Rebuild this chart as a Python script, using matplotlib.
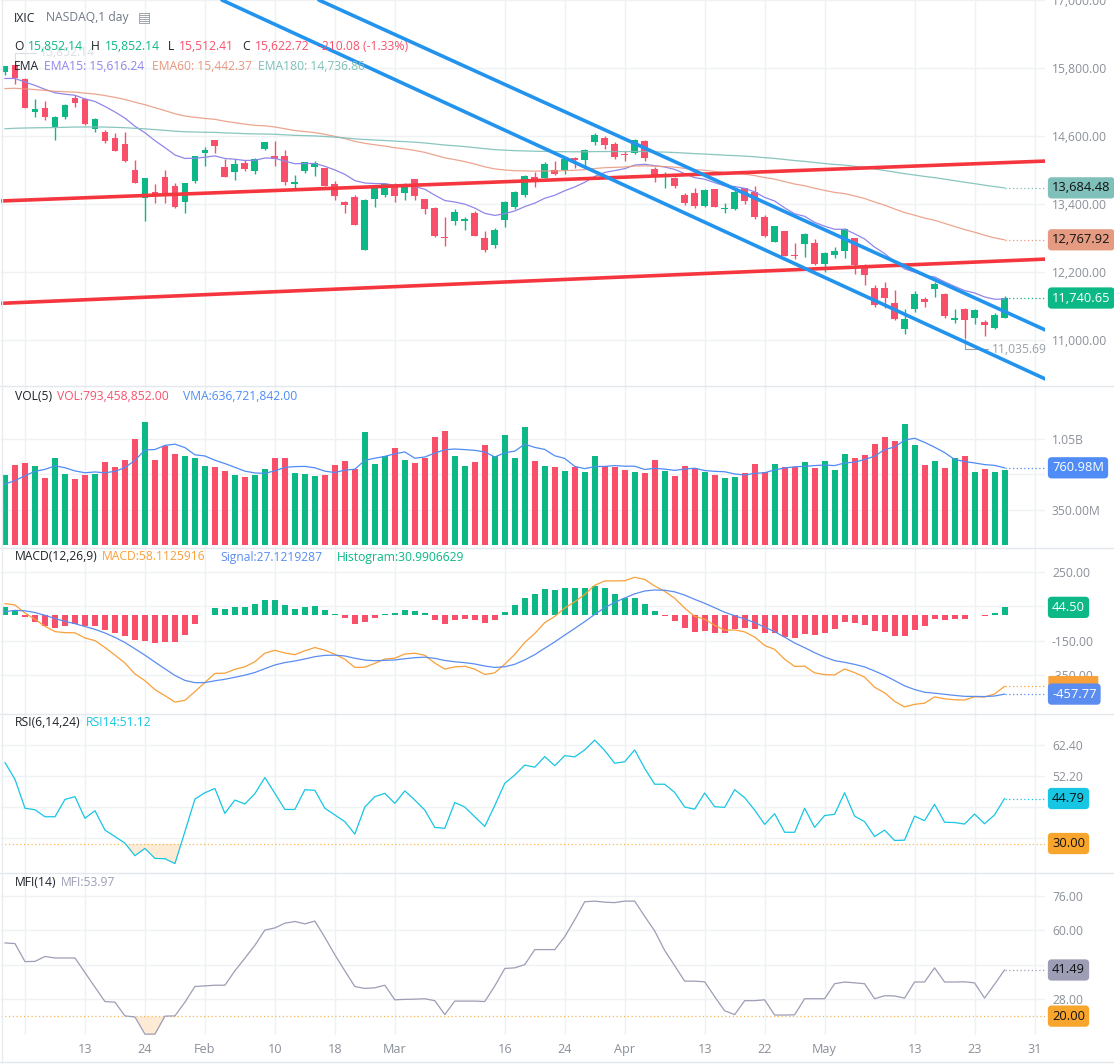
import numpy as np
import matplotlib.pyplot as plt
from matplotlib.lines import Line2D
from matplotlib.patches import FancyBboxPatch
from matplotlib.transforms import blended_transform_factory, ScaledTranslation

plt.rcParams['font.family'] = ['Open Sans', 'DejaVu Sans']

# ---- daily candles, IXIC 2022-01-03 .. 2022-05-26 (index 0..100) ----
opens = [15732.5, 15852.14, 15614, 15024, 15097, 14765, 14934, 15264, 15245, 14725,
         14671, 14564, 14459, 14004, 13499, 13610, 13871, 13710, 13436, 13812,
         14303, 14528, 14058, 13960, 14129, 13988, 14365, 14242, 14247, 13753,
         13977, 14048, 14030, 13747, 13441, 13529, 12588, 13483, 13566, 13717,
         13600, 13835, 13483, 13335, 12811, 13106, 13100, 13235, 12795, 12676,
         13118, 13353, 13559, 13882, 13853, 14000, 14000, 14206, 14176, 14500,
         14559, 14459, 14290, 14306, 14512, 14018, 13880, 13853, 13559, 13588,
         13365, 13659, 13319, 13312, 13676, 13618, 13165, 12735, 12924, 12494,
         12694, 12717, 12335, 12500, 12576, 12806, 12265, 11923, 11912, 11659,
         11188, 11547, 11718, 11894, 11806, 11353, 11541, 11382, 11323, 11217,
         11394]
highs = [15833, 15852.14, 15620, 15246, 15209, 14950, 15165, 15319, 15271, 14910,
         14705, 14651, 14674, 14174, 13858, 13760, 14003, 13765, 13771, 14242,
         14400, 14528, 14190, 14195, 14181, 14217, 14497, 14503, 14346, 13914,
         14140, 14158, 14034, 13806, 13458, 13560, 13483, 13698, 13765, 13776,
         13779, 13839, 13494, 13340, 13176, 13312, 13165, 13283, 12924, 12971,
         13458, 13629, 13912, 13965, 14144, 14159, 14217, 14226, 14370, 14646,
         14600, 14494, 14340, 14548, 14537, 14047, 13965, 13870, 13590, 13683,
         13663, 13670, 13421, 13655, 13687, 13710, 13205, 13012, 12924, 12709,
         12890, 12778, 12544, 12637, 12982, 12806, 12341, 11977, 12023, 11878,
         11547, 11856, 11760, 12029, 11829, 11541, 11565, 11543, 11360, 11484,
         11782]
lows = [15678, 15512.41, 15096, 14933, 14877, 14530, 14905, 15118, 14795, 14672,
        14474, 14332, 14141, 13767, 13094, 13424, 13416, 13322, 13236, 13777,
        14073, 14307, 13870, 13824, 13979, 13925, 14347, 14077, 13728, 13664,
        13954, 13889, 13713, 13462, 13247, 13027, 12587, 13352, 13528, 13441,
        13468, 13472, 13229, 12823, 12659, 13029, 12941, 12836, 12555, 12618,
        12989, 13312, 13521, 13694, 13853, 13912, 13937, 14042, 14072, 14437,
        14362, 14200, 14152, 14274, 14167, 13794, 13688, 13690, 13390, 13337,
        13340, 13347, 13246, 13296, 13396, 13136, 12820, 12725, 12482, 12431,
        12461, 12316, 12202, 12450, 12451, 12165, 11970, 11574, 11560, 11351,
        11100, 11487, 11580, 11753, 11390, 11291, 11035.69, 11285, 11068, 11198,
        11390]
closes = [15832.80, 15622.72, 15100.17, 15080.86, 14935.90, 14942.83, 15153.45, 15188.39, 14806.81, 14893.75,
          14506.90, 14340.26, 14154.02, 13768.92, 13855.13, 13539.29, 13542.12, 13352.78, 13770.57, 14239.88,
          14346.00, 14417.55, 13878.82, 14098.01, 14015.67, 14194.46, 14490.37, 14185.64, 13791.15, 13790.92,
          14139.76, 14124.09, 13716.72, 13548.07, 13381.52, 13037.49, 13473.59, 13694.62, 13751.40, 13532.46,
          13752.02, 13537.94, 13313.44, 12830.96, 12795.55, 13255.55, 13129.96, 12843.81, 12581.22, 12948.62,
          13436.55, 13614.78, 13893.84, 13838.46, 14108.82, 13922.60, 14191.84, 14169.30, 14354.90, 14619.64,
          14442.28, 14220.52, 14261.50, 14532.55, 14204.17, 13888.82, 13897.30, 13711.00, 13411.96, 13371.57,
          13643.59, 13351.08, 13332.36, 13619.66, 13453.07, 13174.65, 12839.29, 13004.85, 12490.74, 12488.93,
          12871.53, 12334.64, 12536.02, 12563.76, 12964.86, 12317.69, 12144.66, 11623.25, 11737.67, 11364.24,
          11370.96, 11805.00, 11662.79, 11984.52, 11418.15, 11388.50, 11354.62, 11535.27, 11264.45, 11434.74,
          11740.65]

ema15 = [15615, 15616.2, 15551.7, 15492.8, 15423.2, 15363.2, 15337.0, 15318.4, 15254.5, 15209.4,
         15121.6, 15023.9, 14915.2, 14771.9, 14657.3, 14517.5, 14395.6, 14265.2, 14203.4, 14208.0,
         14225.3, 14249.3, 14203.0, 14189.9, 14168.1, 14171.4, 14211.3, 14208.1, 14156.0, 14110.4,
         14114.1, 14115.3, 14065.5, 14000.8, 13923.4, 13812.7, 13770.3, 13760.8, 13759.6, 13731.2,
         13733.8, 13709.3, 13659.8, 13556.2, 13461.1, 13435.4, 13397.2, 13328.0, 13234.6, 13198.8,
         13228.5, 13276.8, 13353.9, 13414.5, 13501.3, 13554.0, 13633.7, 13700.7, 13782.5, 13887.1,
         13956.5, 13989.5, 14023.5, 14087.1, 14101.7, 14075.1, 14052.9, 14010.2, 13935.4, 13864.9,
         13837.2, 13776.4, 13720.9, 13708.2, 13676.3, 13613.6, 13516.8, 13452.8, 13332.5, 13227.0,
         13182.6, 13076.6, 13009.0, 12953.3, 12954.7, 12875.1, 12783.8, 12638.7, 12526.1, 12380.9,
         12254.7, 12198.5, 12131.5, 12113.1, 12026.2, 11946.5, 11872.5, 11830.3, 11759.6, 11719.0,
         11721.7]
ema60 = [15436.3, 15442.4, 15431.2, 15419.7, 15403.8, 15388.7, 15381.0, 15374.7, 15356.1, 15340.9,
         15313.6, 15281.7, 15244.7, 15196.3, 15152.3, 15099.4, 15048.3, 14992.7, 14952.6, 14929.2,
         14910.1, 14893.9, 14860.6, 14835.6, 14808.7, 14788.6, 14778.8, 14759.3, 14727.5, 14696.8,
         14678.5, 14660.3, 14629.4, 14593.9, 14554.1, 14504.4, 14470.6, 14445.2, 14422.4, 14393.2,
         14372.2, 14344.8, 14311.0, 14262.5, 14214.4, 14183.0, 14148.5, 14105.7, 14055.7, 14019.4,
         14000.3, 13987.7, 13984.6, 13979.8, 13984.0, 13982.0, 13988.9, 13994.8, 14006.6, 14026.7,
         14040.3, 14046.2, 14053.3, 14069.0, 14073.4, 14067.3, 14061.7, 14050.2, 14029.3, 14007.7,
         13995.8, 13974.7, 13953.6, 13942.7, 13926.6, 13901.9, 13867.1, 13838.8, 13794.6, 13751.8,
         13722.9, 13677.4, 13640.0, 13604.7, 13583.7, 13542.2, 13496.4, 13435.0, 13379.3, 13313.2,
         13249.5, 13202.1, 13151.6, 13113.3, 13057.7, 13003.0, 12948.9, 12902.5, 12848.8, 12802.4,
         12767.9]
ema180 = [14727.0, 14736.9, 14740.9, 14744.7, 14746.8, 14749.0, 14753.5, 14758.3, 14758.8, 14760.3,
          14757.5, 14752.9, 14746.3, 14735.5, 14725.8, 14712.7, 14699.8, 14684.9, 14674.8, 14670.0,
          14666.4, 14663.6, 14654.9, 14648.7, 14641.7, 14636.8, 14635.2, 14630.2, 14620.9, 14611.7,
          14606.5, 14601.2, 14591.4, 14579.9, 14566.7, 14549.8, 14537.9, 14528.6, 14520.0, 14509.1,
          14500.7, 14490.1, 14477.1, 14458.9, 14440.5, 14427.4, 14413.1, 14395.8, 14375.7, 14359.9,
          14349.7, 14341.6, 14336.7, 14331.2, 14328.7, 14324.2, 14322.7, 14321.0, 14321.4, 14324.7,
          14326.0, 14324.8, 14324.1, 14326.4, 14325.0, 14320.2, 14315.5, 14308.8, 14298.9, 14288.7,
          14281.6, 14271.3, 14260.9, 14253.8, 14245.0, 14233.2, 14217.8, 14204.4, 14185.5, 14166.8,
          14152.5, 14132.4, 14114.8, 14097.7, 14085.2, 14065.7, 14044.5, 14017.7, 13992.5, 13963.5,
          13934.9, 13911.4, 13886.6, 13865.6, 13838.6, 13811.5, 13784.4, 13759.5, 13731.9, 13706.5,
          13684.5]

# volume in millions
vol_m = [693, 792, 812, 782, 666, 861, 703, 653, 693, 703,
         822, 772, 842, 1049, 1218, 842, 980, 901, 881, 861,
         782, 772, 736, 693, 673, 693, 752, 861, 861, 713,
         703, 683, 693, 792, 832, 752, 1119, 802, 881, 960,
         842, 812, 861, 1069, 1129, 881, 782, 822, 990, 881,
         1089, 861, 1168, 832, 782, 772, 733, 772, 723, 881,
         782, 772, 743, 723, 713, 842, 733, 683, 782, 762,
         723, 693, 663, 673, 713, 802, 723, 802, 772, 772,
         822, 762, 832, 743, 901, 861, 891, 1000, 1069, 1030,
         1198, 990, 792, 832, 762, 861, 881, 723, 752, 723,
         743]
vma_m = [604, 637, 686, 729, 749, 783, 765, 733, 715, 723,
         715, 729, 766, 838, 941, 945, 986, 998, 964, 893,
         881, 839, 806, 769, 731, 713, 709, 734, 768, 776,
         778, 764, 731, 717, 741, 750, 838, 859, 877, 903,
         921, 859, 871, 909, 943, 950, 944, 937, 921, 871,
         913, 929, 998, 966, 946, 883, 857, 778, 756, 776,
         778, 786, 780, 780, 747, 759, 751, 739, 751, 760,
         737, 729, 725, 703, 693, 709, 715, 743, 762, 774,
         778, 786, 792, 786, 812, 820, 846, 879, 944, 970,
         1038, 1057, 1016, 968, 915, 847, 826, 812, 796, 788,
         764]

macd = [66, 58.1, 12.4, -25, -65.5, -96, -102, -103, -133, -148,
        -188, -232, -278, -341, -380, -432, -467, -504, -494, -443.5,
        -390.2, -338.3, -336.8, -314.3, -299.6, -270.5, -221, -204, -219.8, -229.7,
        -207, -188.2, -203.8, -227.1, -256.1, -303.3, -302, -279.9, -254.9, -249.9,
        -225.6, -221.1, -232.9, -278, -313, -300.2, -296.7, -313.5, -344, -334.6,
        -284.5, -227.8, -158.6, -106.9, -43.7, -8.5, 40.7, 76.9, 119.2, 172.1,
        197.5, 197.5, 198.5, 218.6, 205.7, 168.1, 137.4, 96.9, 40.2, -7.9,
        -23.8, -59.3, -87.9, -86.4, -97.5, -127.4, -176.1, -199.1, -255.8, -297.5,
        -296.2, -334.7, -345, -346.9, -312.4, -333.4, -359.9, -418.2, -450, -499.5,
        -532.1, -517, -510.5, -474, -485.1, -490.7, -492.2, -473.3, -474.8, -457,
        -413.4]
signal = [19.4, 27.1, 24.2, 14.4, -1.6, -20.5, -36.8, -50.0, -66.6, -82.9,
          -103.9, -129.5, -159.2, -195.6, -232.5, -272.4, -311.3, -349.8, -378.6, -391.6,
          -391.3, -380.7, -371.9, -360.4, -348.2, -332.7, -310.4, -289.1, -275.2, -266.1,
          -254.3, -241.1, -233.6, -232.3, -237.1, -250.3, -260.6, -264.5, -262.6, -260.1,
          -253.2, -246.8, -244.0, -250.8, -263.2, -270.6, -275.8, -283.3, -295.4, -303.2,
          -299.5, -285.2, -259.9, -229.3, -192.2, -155.5, -116.3, -77.7, -38.3, 3.8,
          42.5, 73.5, 98.5, 122.5, 139.1, 144.9, 143.4, 134.1, 115.3, 90.7,
          67.8, 42.4, 16.3, -4.2, -22.9, -43.8, -70.3, -96.1, -128.0, -161.9,
          -188.8, -218.0, -243.4, -264.1, -273.8, -285.7, -300.5, -324.0, -349.2, -379.3,
          -409.9, -431.3, -447.1, -452.5, -459.0, -465.3, -470.7, -471.2, -471.9, -468.9,
          -457.8]

rsi14 = [56.6, 51.1, 41.6, 41.1, 38.8, 38.8, 44.5, 45.4, 38.3, 40.8,
         34.4, 32.3, 30.1, 26.0, 28.4, 25.1, 25.0, 23.4, 33.9, 44.6,
         46.7, 48.1, 39.9, 44.3, 43.0, 46.4, 51.7, 46.5, 41.2, 41.2,
         47.7, 47.5, 41.6, 39.4, 37.2, 33.1, 42.0, 45.4, 46.5, 43.2,
         47.3, 44.3, 41.0, 35.3, 35.0, 43.5, 42.0, 38.8, 35.6, 42.5,
         49.8, 52.5, 55.8, 55.1, 58.6, 55.6, 58.9, 58.5, 60.8, 64.0,
         60.6, 56.4, 56.9, 60.8, 54.7, 49.5, 49.5, 46.8, 42.0, 41.3,
         46.6, 42.1, 41.9, 47.7, 45.1, 41.0, 36.3, 39.8, 33.7, 33.7,
         41.6, 35.3, 39.2, 39.6, 46.7, 39.0, 37.2, 32.3, 34.4, 31.0,
         31.1, 39.0, 37.5, 42.9, 37.0, 36.9, 36.4, 39.7, 36.5, 39.4,
         44.8]
mfi14 = [54.1, 53.8, 45.4, 45.5, 47.8, 47.1, 47.1, 47.1, 40.3, 33.5,
         26.8, 26.5, 20.1, 19.6, 11.6, 11.6, 20.0, 20.1, 26.5, 33.8,
         34.1, 34.4, 34.4, 41.1, 47.0, 53.0, 60.1, 61.1, 63.3, 64.1,
         63.0, 64.3, 56.7, 48.6, 41.1, 33.8, 32.9, 33.2, 34.4, 27.6,
         27.8, 27.9, 28.1, 27.2, 20.7, 27.0, 27.0, 27.0, 26.8, 34.0,
         42.2, 42.5, 44.0, 51.0, 51.0, 51.0, 57.0, 64.9, 73.3, 73.6,
         73.1, 72.9, 73.6, 73.6, 66.5, 59.7, 50.6, 43.5, 36.3, 36.3,
         36.0, 29.1, 22.5, 20.7, 27.2, 27.2, 27.6, 20.5, 20.5, 20.6,
         28.1, 28.1, 28.1, 35.1, 35.9, 35.5, 35.1, 28.1, 29.5, 29.4,
         28.4, 35.9, 35.9, 42.5, 35.9, 35.9, 36.0, 35.5, 28.4, 34.8,
         41.5]

# x axis: candle index of each date tick
tick_pos = [2, 8, 14, 20, 27, 33, 39, 50, 56, 62, 70, 76, 82, 91, 97, 103]
tick_labels = ['', '13', '24', 'Feb', '10', '18', 'Mar', '16', '24', 'Apr', '13', '22', 'May', '13', '23', '31']

# hand-drawn trend lines (candle index, price)
trend_x = [[-0.4, 104.3], [-0.4, 104.3], [21.7, 104.3], [31.4, 104.3]]
trend_y = [[13453, 14159], [11647, 12429], [17000, 10294], [17000, 11159]]
trend_colors = ['#f5363f', '#f5363f', '#2394ee', '#2394ee']

GREEN = '#0cb885'
RED = '#f8506b'
GRID = '#eff1f4'
AXTXT = '#8a9099'
C_EMA15, C_EMA60, C_EMA180 = '#8f86ea', '#e8967c', '#7dbfb8'
C_VMA = '#4f8cf6'
C_MACD, C_SIG = '#f8a03a', '#5b8df0'
C_RSI, C_MFI = '#16c6e3', '#9d9db5'
ORANGE = '#f8a52e'
FS = 8.7

W, H = 1114, 1064
fig = plt.figure(figsize=(W / 100, H / 100), dpi=100)

opens = np.array(opens); highs = np.array(highs); lows = np.array(lows); closes = np.array(closes)
vol = np.array(vol_m) * 1e6
vma = np.array(vma_m) * 1e6
macd = np.array(macd); signal = np.array(signal)
hist = macd - signal
x = np.arange(len(closes))
up = closes >= opens
ccol = np.where(up, GREEN, RED)
XMAX = 104.05


def pane(top, bottom, ylim, yticks, ylabels):
    ax = fig.add_axes([1 / W, 1 - bottom / H, 1044 / W, (bottom - top) / H])
    ax.set_xlim(-0.4, XMAX)
    ax.set_ylim(*ylim)
    ax.set_xticks(tick_pos)
    ax.set_yticks(yticks)
    ax.set_yticklabels(ylabels)
    ax.yaxis.tick_right()
    ax.tick_params(length=0, labelsize=FS, labelcolor=AXTXT, pad=5)
    ax.tick_params(axis='x', labelbottom=False)
    ax.grid(True, color=GRID, lw=1)
    ax.set_axisbelow(True)
    for s in ax.spines.values():
        s.set_visible(False)
    ax.patch.set_alpha(0)
    return ax


def box(ax, y, text, fc, tc):
    tr = blended_transform_factory(ax.transAxes, ax.transData) + \
        ScaledTranslation(0.07, 0, fig.dpi_scale_trans)
    ax.text(1.0, y, text, transform=tr, ha='left', va='center', fontsize=FS + 0.6,
            color=tc, zorder=20, clip_on=False,
            bbox=dict(boxstyle='round,pad=0.32,rounding_size=0.3', fc=fc, ec='none'))


def plain_box(ax, y, fc, width_px, height_px):
    # label box whose text is hidden under a neighbour (as in the source chart)
    tr = blended_transform_factory(ax.transAxes, ax.transAxes) + \
        ScaledTranslation(0.033, 0, fig.dpi_scale_trans)
    yax = ax.transLimits.transform((0, y))[1]
    bw = width_px / ax.bbox.width
    bh = height_px / ax.bbox.height
    ax.add_patch(FancyBboxPatch((1.0, yax - bh / 2), bw, bh, boxstyle='round,pad=0,rounding_size=0.003',
                                transform=tr, fc=fc, ec='none', zorder=19, clip_on=False))


def tail(ax, y, color):
    ax.plot([x[-1], XMAX], [y, y], ls=(0, (1, 2)), color=color, lw=0.9, zorder=4)


def legend(py, pieces):
    for px, s, c in pieces:
        fig.text(px / W, 1 - py / H, s, color=c, fontsize=FS, va='center', ha='left', zorder=30)


# ---- price pane ----
axp = pane(0, 386, (10188, 17000), [11000, 12200, 13400, 14600, 15800, 17000],
           ['11,000.00', '12,200.00', '13,400.00', '14,600.00', '15,800.00', '17,000.00'])
axp.vlines(x, lows, highs, color=ccol, lw=1.0, zorder=3)
axp.bar(x, np.maximum(np.abs(closes - opens), 18), bottom=np.minimum(opens, closes),
        width=0.68, color=ccol, zorder=3)
axp.plot(x, ema15, color=C_EMA15, lw=0.9, zorder=4)
axp.plot(x, ema60, color=C_EMA60, lw=0.9, alpha=0.85, zorder=4)
axp.plot(x, ema180, color=C_EMA180, lw=0.9, alpha=0.9, zorder=4)
for tx, ty, tc in zip(trend_x, trend_y, trend_colors):
    axp.plot(tx, ty, color=tc, lw=2.6, solid_capstyle='round', zorder=6)
tail(axp, ema180[-1], C_EMA180)
tail(axp, ema60[-1], C_EMA60)
tail(axp, closes[-1], GREEN)
box(axp, ema180[-1], '13,684.48', '#80c0ba', '#111111')
box(axp, ema60[-1], '12,767.92', '#e59b82', '#111111')
box(axp, closes[-1], '11,740.65', GREEN, 'white')
imin = int(np.argmin(lows))
axp.annotate(f'{lows[imin]:,.2f}', xy=(imin, lows[imin]), xytext=(20, -8), textcoords='offset points',
             ha='left', va='center', fontsize=FS, color='#9aa0a8',
             arrowprops=dict(arrowstyle='-', color='#9aa0a8', lw=0.8, shrinkA=1, shrinkB=0,
                             connectionstyle='angle,angleA=0,angleB=90'))
imax = int(np.argmax(highs))
axp.annotate(f'{highs[imax]:,.2f}', xy=(imax, highs[imax]), xytext=(18, 9), textcoords='offset points',
             ha='left', va='center', fontsize=FS, color='#dadde1', zorder=1,
             arrowprops=dict(arrowstyle='-', color='#dadde1', lw=0.8, shrinkA=1, shrinkB=0,
                             connectionstyle='angle,angleA=0,angleB=90'))

# ---- volume pane ----
axv = pane(386, 548, (-30e6, 1574e6), [350e6, 700e6, 1050e6], ['350.00M', '', '1.05B'])
axv.bar(x, vol, width=0.6, color=ccol, zorder=3)
axv.plot(x, vma, color=C_VMA, lw=0.9, zorder=4)
tail(axv, vma[-1], C_VMA)
box(axv, vma[-1], '760.98M', C_VMA, 'white')

# ---- MACD pane ----
axm = pane(548, 714, (-573, 388), [-350, -150, 50, 250], ['-350.00', '-150.00', '', '250.00'])
axm.bar(x, hist, width=0.6, color=np.where(hist >= 0, GREEN, RED), zorder=3)
axm.plot(x, macd, color=C_MACD, lw=0.9, zorder=4)
axm.plot(x, signal, color=C_SIG, lw=0.9, zorder=4)
tail(axm, macd[-1], C_MACD)
tail(axm, signal[-1], C_SIG)
box(axm, hist[-1], '44.50', GREEN, 'white')
plain_box(axm, macd[-1], C_MACD, 50, 21)
box(axm, signal[-1], '-457.77', C_SIG, 'white')

# ---- RSI pane ----
axr = pane(714, 873, (20.3, 72.6), [31.8, 42.0, 52.2, 62.4], ['', '', '52.20', '62.40'])
axr.axhline(30, color=ORANGE, ls=(0, (1, 2)), lw=0.9, alpha=0.8, zorder=3)
axr.fill_between(x, rsi14, 30, where=np.array(rsi14) < 30, interpolate=True, color='#fdebd6', lw=0, zorder=2)
axr.plot(x, rsi14, color=C_RSI, lw=0.9, zorder=4)
tail(axr, rsi14[-1], C_RSI)
box(axr, rsi14[-1], '44.79', C_RSI, '#111111')
box(axr, 30, '30.00', ORANGE, '#111111')

# ---- MFI pane ----
axf = pane(873, 1035, (11.2, 86.7), [28, 44, 60, 76], ['28.00', '', '60.00', '76.00'])
axf.axhline(20, color=ORANGE, ls=(0, (1, 2)), lw=0.9, alpha=0.8, zorder=3)
axf.fill_between(x, mfi14, 20, where=np.array(mfi14) < 20, interpolate=True, color='#fdebd6', lw=0, zorder=2)
axf.plot(x, mfi14, color=C_MFI, lw=0.9, zorder=4)
tail(axf, mfi14[-1], C_MFI)
box(axf, mfi14[-1], '41.49', C_MFI, '#111111')
box(axf, 20, '20.00', ORANGE, '#111111')
axf.set_xticklabels(tick_labels)
axf.tick_params(axis='x', labelbottom=True, labelcolor=AXTXT, labelsize=FS + 0.4, pad=6)

# pane separators
for yy in [386, 548, 714, 873, 1062]:
    fig.add_artist(Line2D([0, 1], [1 - yy / H] * 2, transform=fig.transFigure, color='#e4e7eb', lw=1))
fig.add_artist(Line2D([1.5 / W] * 2, [0, 1], transform=fig.transFigure, color='#e9ecef', lw=1))

# ---- legends ----
legend(18, [(14, 'IXIC', '#1e2329'), (46, 'NASDAQ,1 day', '#6f7886')])
fig.text(138 / W, 1 - 17 / H, '▤', family='DejaVu Sans', color='#8d939c', fontsize=10, va='center')
legend(47, [(14, 'O', '#1e2329'), (28, '15,852.14', GREEN), (91, 'H', '#1e2329'), (105, '15,852.14', GREEN),
            (168, 'L', '#1e2329'), (179, '15,512.41', RED), (242, 'C', '#1e2329'), (255, '15,622.72', RED),
            (318, '-210.08 (-1.33%)', RED)])
legend(67, [(14, 'EMA', '#1e2329'), (44, 'EMA15: 15,616.24', C_EMA15), (152, 'EMA60: 15,442.37', C_EMA60),
            (258, 'EMA180: 14,736.86', C_EMA180)])
legend(396, [(15, 'VOL(5)', '#1e2329'), (57, 'VOL:793,458,852.00', RED), (183, 'VMA:636,721,842.00', C_VMA)])
legend(557, [(15, 'MACD(12,26,9)', '#1e2329'), (102, 'MACD:58.1125916', C_MACD),
             (220, 'Signal:27.1219287', C_SIG), (337, 'Histogram:30.9906629', GREEN)])
legend(723, [(15, 'RSI(6,14,24)', '#1e2329'), (86, 'RSI14:51.12', C_RSI)])
legend(883, [(15, 'MFI(14)', '#1e2329'), (61, 'MFI:53.97', C_MFI)])

fig.savefig('out.png', dpi=100)
